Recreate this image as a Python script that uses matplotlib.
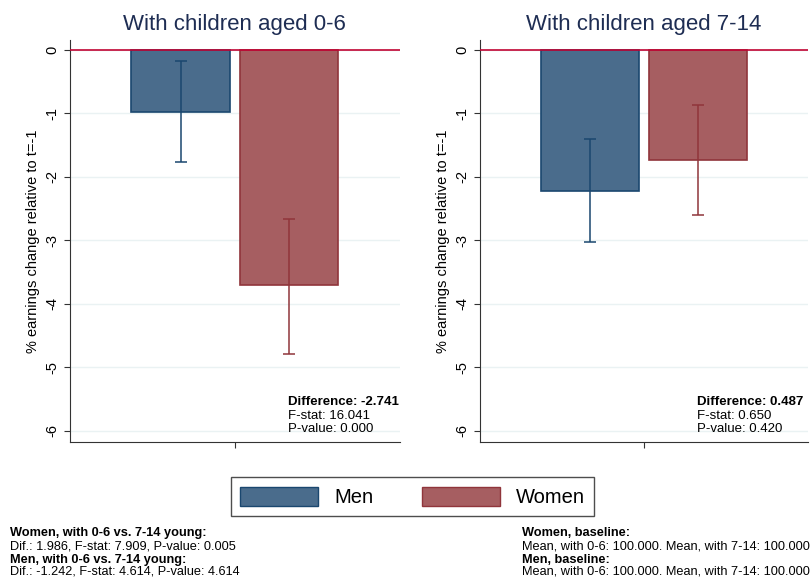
import numpy as np
import matplotlib
matplotlib.use('Agg')
import matplotlib.pyplot as plt
from matplotlib.patches import Patch

plt.rcParams['font.family'] = ['Liberation Sans', 'DejaVu Sans']

groups = ['Men', 'Women']
panel_titles = ['With children aged 0-6', 'With children aged 7-14']
# point estimates and confidence bounds per panel (men, women)
est = [[-0.97, -3.71], [-2.22, -1.733]]
ci_hi = [[-0.18, -2.66], [-1.41, -0.87]]
ci_lo = [[-1.77, -4.80], [-3.03, -2.60]]
diff_txt = [['Difference: -2.741', 'F-stat: 16.041', 'P-value: 0.000'],
            ['Difference: 0.487', 'F-stat: 0.650', 'P-value: 0.420']]
yticks = [0, -1, -2, -3, -4, -5, -6]

foot_left = [('Women, with 0-6 vs. 7-14 young:', 'bold'),
             ('Dif.: 1.986, F-stat: 7.909, P-value: 0.005', 'normal'),
             ('Men, with 0-6 vs. 7-14 young:', 'bold'),
             ('Dif.: -1.242, F-stat: 4.614, P-value: 4.614', 'normal')]
foot_right = [('Women, baseline:', 'bold'),
              ('Mean, with 0-6: 100.000. Mean, with 7-14: 100.000', 'normal'),
              ('Men, baseline:', 'bold'),
              ('Mean, with 0-6: 100.000. Mean, with 7-14: 100.000', 'normal')]

fill_c = ['#4a6c8c', '#a65e61']
edge_c = ['#1a476f', '#90353b']
grid_c = '#eaf2f3'
zero_c = '#c10534'
title_c = '#1e2d53'

fig = plt.figure(figsize=(8.12, 5.79), dpi=100)
axes = [fig.add_axes([0.0862, 0.2366, 0.406, 0.6945]),
        fig.add_axes([0.591, 0.2366, 0.404, 0.6945])]

xpos = np.array([-0.55, 0.55])
for k, ax in enumerate(axes):
    for t in yticks:
        ax.axhline(t, color=grid_c, lw=1.0, zorder=0)
    ax.bar(xpos, est[k], width=1.0, color=fill_c, edgecolor=edge_c, lw=1.2, zorder=2)
    for i in range(2):
        ax.errorbar(xpos[i], est[k][i],
                    yerr=[[est[k][i] - ci_lo[k][i]], [ci_hi[k][i] - est[k][i]]],
                    fmt='none', ecolor=edge_c[i], elinewidth=1.1, capsize=4, capthick=1.1, zorder=3)
    ax.axhline(0, color=zero_c, lw=1.2, zorder=4)
    ax.set_xlim(-1.67, 1.67)
    ax.set_ylim(-6.18, 0.16)
    ax.set_yticks(yticks)
    ax.set_yticklabels([str(t) for t in yticks], rotation=90, va='center', fontsize=10.5)
    ax.set_xticks([0])
    ax.set_xticklabels([''])
    ax.tick_params(axis='both', length=4, width=0.8, color='#333333')
    ax.spines['top'].set_visible(False)
    ax.spines['right'].set_visible(False)
    ax.spines['left'].set_color('#333333')
    ax.spines['bottom'].set_color('#333333')
    ax.set_ylabel('% earnings change relative to t=-1', fontsize=10.5, labelpad=4)
    ax.set_title(panel_titles[k], fontsize=16, color=title_c, pad=7)
    for j, (txt, yy) in enumerate(zip(diff_txt[k], [0.092, 0.057, 0.024])):
        ax.text(0.662, yy, txt, transform=ax.transAxes, fontsize=9.5,
                fontweight='bold' if j == 0 else 'normal')

handles = [Patch(facecolor=fill_c[i], edgecolor=edge_c[i], label=groups[i]) for i in range(2)]
leg = fig.legend(handles=handles, loc='center', bbox_to_anchor=(0.508, 0.142), ncol=2,
                 fontsize=14.5, frameon=True, fancybox=False, edgecolor='#222222',
                 handlelength=3.9, handleheight=1.1, handletextpad=0.8,
                 columnspacing=2.4, borderpad=0.45)
leg.get_frame().set_linewidth(1.0)

fs = 9.2
yrows = [0.0794, 0.0553, 0.0328, 0.0121]
for (txt, w), yy in zip(foot_left, yrows):
    fig.text(0.012, yy, txt, fontsize=fs, fontweight=w, va='center')
for (txt, w), yy in zip(foot_right, yrows):
    fig.text(0.643, yy, txt, fontsize=fs, fontweight=w, va='center')

fig.savefig('out.png', dpi=100)
